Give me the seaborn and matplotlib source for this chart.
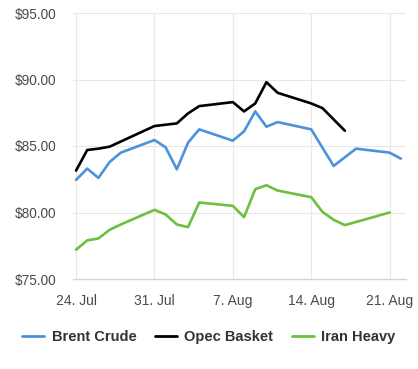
import matplotlib
matplotlib.use("Agg")
import matplotlib.pyplot as plt
import pandas as pd
import seaborn as sns

# --- data (daily prices, 2023) ---
brent_dates = ["2023-07-24", "2023-07-25", "2023-07-26", "2023-07-27", "2023-07-28",
               "2023-07-31", "2023-08-01", "2023-08-02", "2023-08-03", "2023-08-04",
               "2023-08-07", "2023-08-08", "2023-08-09", "2023-08-10", "2023-08-11",
               "2023-08-14", "2023-08-16", "2023-08-18", "2023-08-21", "2023-08-22"]
brent_prices = [82.45, 83.3, 82.6, 83.8, 84.5,
                85.45, 84.9, 83.25, 85.25, 86.25,
                85.4, 86.1, 87.6, 86.45, 86.8,
                86.25, 83.5, 84.8, 84.5, 84.05]

opec_dates = ["2023-07-24", "2023-07-25", "2023-07-26", "2023-07-27", "2023-07-31",
              "2023-08-02", "2023-08-03", "2023-08-04", "2023-08-07", "2023-08-08",
              "2023-08-09", "2023-08-10", "2023-08-11", "2023-08-14", "2023-08-15",
              "2023-08-17"]
opec_prices = [83.15, 84.7, 84.8, 84.95, 86.5,
               86.7, 87.45, 88.0, 88.3, 87.6,
               88.2, 89.8, 89.0, 88.2, 87.85,
               86.15]

iran_dates = ["2023-07-24", "2023-07-25", "2023-07-26", "2023-07-27", "2023-07-28",
              "2023-07-31", "2023-08-01", "2023-08-02", "2023-08-03", "2023-08-04",
              "2023-08-07", "2023-08-08", "2023-08-09", "2023-08-10", "2023-08-11",
              "2023-08-14", "2023-08-15", "2023-08-16", "2023-08-17", "2023-08-21"]
iran_prices = [77.2, 77.9, 78.05, 78.7, 79.1,
               80.2, 79.85, 79.1, 78.9, 80.75,
               80.5, 79.65, 81.75, 82.05, 81.65,
               81.15, 80.05, 79.45, 79.05, 80.0]

series_names = ["Brent Crude", "Opec Basket", "Iran Heavy"]
series_colors = ["#4a93dc", "#000000", "#6cbf3f"]

tick_dates = ["2023-07-24", "2023-07-31", "2023-08-07", "2023-08-14", "2023-08-21"]
tick_labels = ["24. Jul", "31. Jul", "7. Aug", "14. Aug", "21. Aug"]
y_ticks = [75, 80, 85, 90, 95]

frames = []
for name, d, p in zip(series_names,
                      [brent_dates, opec_dates, iran_dates],
                      [brent_prices, opec_prices, iran_prices]):
    frames.append(pd.DataFrame({"date": pd.to_datetime(d), "price": p, "series": name}))
df = pd.concat(frames, ignore_index=True)

sns.set_style("white")
plt.rcParams["font.family"] = ["Liberation Sans", "DejaVu Sans"]

fig = plt.figure(figsize=(4.18, 3.69), dpi=100)
ax = fig.add_axes([73 / 418, 1 - 279 / 369, (406 - 73) / 418, (279 - 13) / 369])

sns.lineplot(data=df, x="date", y="price", hue="series", hue_order=series_names,
             palette=series_colors, linewidth=1.9, ax=ax, legend=False)

start = pd.Timestamp("2023-07-24")
ax.set_xlim(start - pd.Timedelta(hours=6.5), start + pd.Timedelta(days=29.46))
ax.set_ylim(75, 95)

ax.set_xticks(pd.to_datetime(tick_dates))
ax.set_xticklabels(tick_labels)
ax.set_yticks(y_ticks)
ax.set_yticklabels(["${:.2f}".format(v) for v in y_ticks])

ax.grid(True, color="#e8e8e8", linewidth=0.8)
ax.set_axisbelow(True)
for s in ["top", "right", "left"]:
    ax.spines[s].set_visible(False)
ax.spines["bottom"].set_color("#ccd6eb")
ax.spines["bottom"].set_linewidth(1.0)

ax.tick_params(axis="x", length=8, color="#b8b8b8", width=0.9, pad=2.5,
               labelsize=10, labelcolor="#4a4a4a")
ax.tick_params(axis="y", length=0, pad=12, labelsize=9.8, labelcolor="#4a4a4a")
ax.set_xlabel("")
ax.set_ylabel("")

handles = [plt.Line2D([], [], color=c, linewidth=2) for c in series_colors]
fig.legend(handles, series_names, loc="center", bbox_to_anchor=(0.5, 1 - 337 / 369),
           ncol=3, frameon=False, handlelength=1.5, handletextpad=0.5,
           columnspacing=1.3, prop={"weight": "bold", "size": 10.5})
for t in fig.legends[0].get_texts():
    t.set_color("#333333")

fig.savefig("out.png", dpi=100)
